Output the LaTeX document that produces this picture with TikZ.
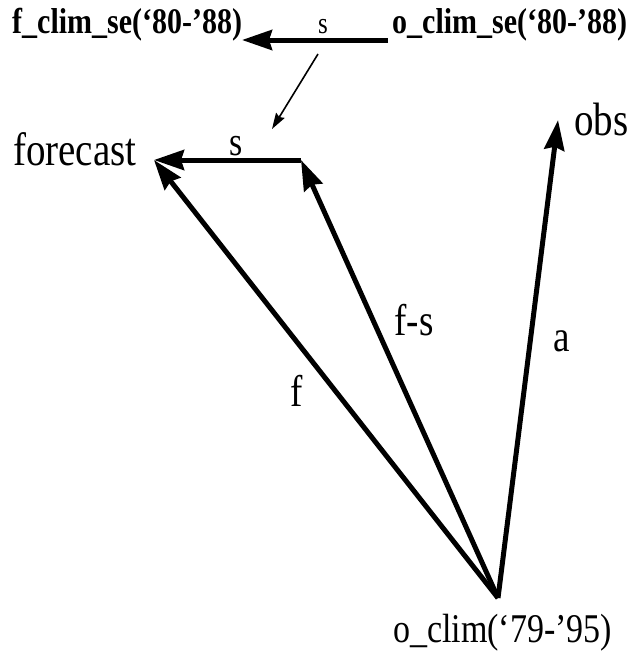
\documentclass[tikz,border=0pt]{standalone}
\usepackage{fontspec}
\setmainfont{Liberation Serif}
\usepackage{graphicx}
\usepackage{tikz}
\usetikzlibrary{arrows.meta}

\newcommand{\tallbox}[1]{\scalebox{1}[1.2]{#1}}

\begin{document}
\begin{tikzpicture}[
    x=1pt, y=-1pt,
    vec/.style={line width=5pt, -{Stealth[length=30pt, width=20pt, inset=3pt]}},
    thinvec/.style={line width=1.6pt, -{Stealth[length=16pt, width=10pt, inset=2pt]}},
    clim/.style={font=\bfseries\fontsize{30}{30}\selectfont, inner sep=0pt, anchor=base west},
    big/.style={font=\fontsize{39}{40}\selectfont, inner sep=0pt},
    lab/.style={font=\fontsize{37}{38}\selectfont, inner sep=0pt}
    ]

    \useasboundingbox (0,0) rectangle (629,653);

    % texts
    \node[clim] (fclimse) at (12,33) {\tallbox{f\_clim\_se(‘80-’88)}};
    \node[clim] (oclimse) at (392,33) {\tallbox{o\_clim\_se(‘80-’88)}};
    \node[big, anchor=base west] (forecast) at (13,165) {\tallbox{forecast}};
    \node[big, anchor=base west] (obs) at (574,135) {\tallbox{obs}};
    \node[big, anchor=base west, font=\fontsize{34}{36}\selectfont] (oclim) at (393,642) {\tallbox{o\_clim(‘79-’95)}};

    % vector ends
    \coordinate (O) at (498,598);
    \coordinate (F) at (154,160);
    \coordinate (S) at (301,160);
    \coordinate (A) at (558,120);
    \coordinate (T1) at (388,40);
    \coordinate (T0) at (242,40);
    \coordinate (d1) at (318,54);
    \coordinate (d0) at (272,129);

    \draw[vec] (T1) -- node[pos=0.445, yshift=13pt, font=\fontsize{25}{25}\selectfont, inner sep=0pt] {\tallbox{s}} (T0);
    \draw[thinvec] (d1) -- (d0);
    \draw[vec] (S) -- node[lab, pos=0.442, yshift=14pt, font=\fontsize{34}{34}\selectfont] {\tallbox{s}} (F);
    \draw[vec] (O) -- node[lab, pos=0.473, xshift=-39pt] {\tallbox{f}} (F);
    \draw[vec] (O) -- node[lab, pos=0.635, xshift=41pt] {\tallbox{f-s}} (S);
    \draw[vec] (O) -- node[lab, pos=0.536, xshift=32pt] {\tallbox{a}} (A);

\end{tikzpicture}
\end{document}
